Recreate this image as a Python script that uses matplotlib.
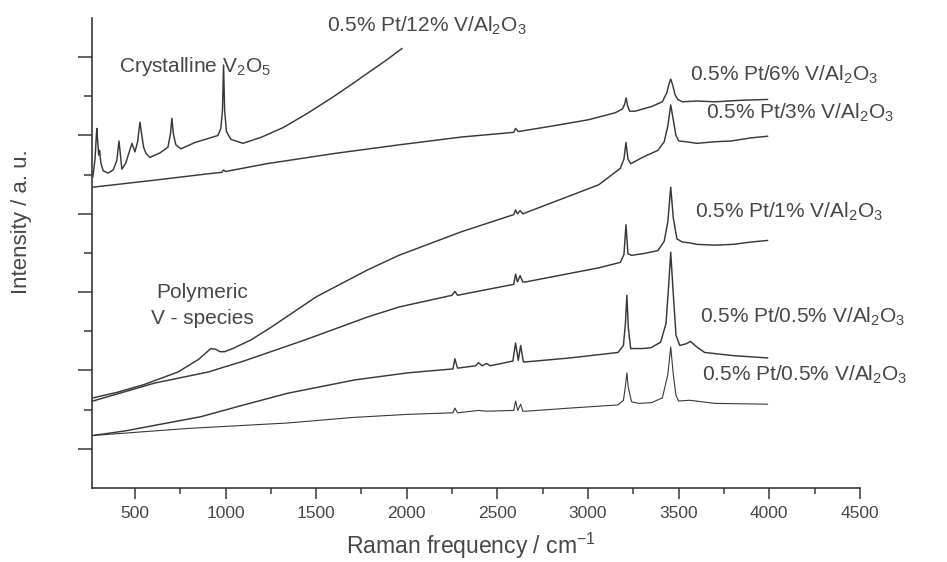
import matplotlib
matplotlib.use("Agg")
import matplotlib.pyplot as plt
from matplotlib.ticker import MultipleLocator

plt.rcParams["font.family"] = ["Liberation Sans", "DejaVu Sans"]
plt.rcParams["mathtext.fontset"] = "custom"
plt.rcParams["mathtext.rm"] = "Liberation Sans"
plt.rcParams["mathtext.it"] = "Liberation Sans:italic"

# spectra (Raman shift / cm-1, intensity in arbitrary units)
wn_12v = [268, 280, 286, 290, 294, 300, 305, 312, 325, 351, 380, 400, 407, 412, 418,
          428, 450, 470, 484, 500, 515, 523, 528, 535, 548, 561, 583, 640, 682, 696,
          704, 712, 726, 754, 831, 958, 974, 983, 989, 995, 1005, 1030, 1096, 1200,
          1317, 1450, 1592, 1700, 1780, 1880, 1973]
int_12v = [3.97, 4.20, 4.45, 4.59, 4.45, 4.25, 4.31, 4.15, 4.05, 4.02, 4.06, 4.18, 4.32, 4.43, 4.30,
           4.07, 4.15, 4.30, 4.40, 4.29, 4.42, 4.58, 4.67, 4.55, 4.35, 4.27, 4.22, 4.28, 4.35, 4.52,
           4.72, 4.52, 4.38, 4.33, 4.41, 4.50, 4.59, 4.82, 5.40, 4.82, 4.55, 4.45, 4.40, 4.48,
           4.60, 4.78, 4.99, 5.16, 5.29, 5.45, 5.61]

wn_6v = [268, 610, 900, 980, 989, 1000, 1228, 1600, 1956, 2128, 2300, 2590, 2600, 2615,
         2800, 3000, 3150, 3190, 3202, 3210, 3218, 3230, 3260, 3350, 3410, 3435, 3448,
         3456, 3466, 3480, 3495, 3520, 3600, 3700, 3850, 3990]
int_6v = [3.84, 3.93, 4.01, 4.03, 4.06, 4.04, 4.14, 4.27, 4.38, 4.43, 4.48, 4.54, 4.59, 4.55,
          4.62, 4.70, 4.79, 4.84, 4.90, 4.98, 4.88, 4.81, 4.81, 4.87, 4.93, 5.05, 5.17,
          5.22, 5.15, 5.02, 4.96, 4.93, 4.94, 4.93, 4.95, 4.96]

wn_3v = [268, 400, 550, 737, 850, 919, 945, 970, 995, 1040, 1140, 1250, 1500, 1780, 1956,
         2300, 2590, 2600, 2610, 2625, 2640, 3058, 3178, 3198, 3209, 3220, 3235, 3300,
         3385, 3420, 3440, 3456, 3470, 3485, 3500, 3540, 3600, 3700, 3790, 3900, 3990]
int_3v = [1.15, 1.22, 1.32, 1.48, 1.64, 1.78, 1.77, 1.74, 1.74, 1.78, 1.89, 2.05, 2.44, 2.78, 2.97,
          3.27, 3.49, 3.55, 3.50, 3.54, 3.50, 3.87, 4.08, 4.20, 4.41, 4.20, 4.14, 4.22,
          4.31, 4.42, 4.62, 4.89, 4.70, 4.50, 4.43, 4.42, 4.40, 4.42, 4.43, 4.47, 4.49]

wn_1v = [268, 610, 903, 1100, 1438, 1780, 1956, 2250, 2265, 2280, 2590, 2600, 2610,
         2625, 2640, 2655, 3058, 3178, 3198, 3209, 3220, 3240, 3300, 3385, 3420, 3440,
         3456, 3470, 3490, 3520, 3560, 3600, 3700, 3800, 3900, 3990]
int_1v = [1.11, 1.34, 1.48, 1.62, 1.89, 2.18, 2.31, 2.46, 2.51, 2.46, 2.60, 2.73, 2.63,
          2.71, 2.63, 2.63, 2.81, 2.88, 2.98, 3.36, 2.99, 2.97, 2.99, 3.03, 3.15, 3.40,
          3.84, 3.45, 3.18, 3.14, 3.13, 3.11, 3.10, 3.11, 3.14, 3.16]

wn_05v_a = [268, 450, 610, 864, 1100, 1344, 1714, 2006, 2255, 2265, 2280, 2380, 2396, 2415,
            2440, 2460, 2585, 2600, 2615, 2628, 2643, 2658, 2900, 3165, 3195, 3206, 3214,
            3222, 3235, 3300, 3346, 3400, 3430, 3445, 3456, 3468, 3485, 3506, 3540, 3565,
            3600, 3643, 3800, 3990]
int_05v_a = [0.67, 0.73, 0.80, 0.91, 1.06, 1.21, 1.38, 1.47, 1.52, 1.65, 1.53, 1.56, 1.60, 1.56,
             1.59, 1.56, 1.62, 1.85, 1.63, 1.82, 1.61, 1.61, 1.66, 1.73, 1.82, 2.10, 2.46,
             2.05, 1.78, 1.78, 1.79, 1.86, 2.10, 2.60, 3.01, 2.55, 1.95, 1.82, 1.84, 1.87,
             1.80, 1.73, 1.69, 1.66]

wn_05v_b = [268, 792, 1344, 1700, 2006, 2255, 2265, 2280, 2396, 2440, 2590, 2600, 2612,
            2628, 2640, 2655, 2900, 3165, 3195, 3206, 3214, 3222, 3240, 3280, 3350, 3410,
            3440, 3456, 3470, 3485, 3500, 3560, 3700, 3990]
int_05v_b = [0.67, 0.76, 0.83, 0.90, 0.94, 0.96, 1.02, 0.96, 0.99, 0.98, 0.99, 1.11, 0.99,
             1.07, 0.98, 0.98, 1.02, 1.06, 1.12, 1.30, 1.47, 1.28, 1.10, 1.08, 1.09, 1.15,
             1.45, 1.80, 1.45, 1.18, 1.11, 1.12, 1.08, 1.07]

spectra = [
    (wn_12v, int_12v, 1.05),
    (wn_6v, int_6v, 1.05),
    (wn_3v, int_3v, 1.05),
    (wn_1v, int_1v, 1.05),
    (wn_05v_a, int_05v_a, 1.05),
    (wn_05v_b, int_05v_b, 0.8),
]

# sample labels: text, x, y
sample_labels = [
    (r"0.5% Pt/12% V/Al$_2$O$_3$", 1560, 5.90),
    (r"0.5% Pt/6% V/Al$_2$O$_3$", 3560, 5.27),
    (r"0.5% Pt/3% V/Al$_2$O$_3$", 3650, 4.79),
    (r"0.5% Pt/1% V/Al$_2$O$_3$", 3590, 3.53),
    (r"0.5% Pt/0.5% V/Al$_2$O$_3$", 3620, 2.19),
    (r"0.5% Pt/0.5% V/Al$_2$O$_3$", 3630, 1.45),
]

ink = "#383838"
txt = "#474747"
fig = plt.figure(figsize=(9.47, 5.62), dpi=100)
ax = fig.add_axes([0.0971, 0.1317, 0.811, 0.8363])

for wn, inten, lw in spectra:
    ax.plot(wn, inten, color=ink, lw=lw)

for text, x, y in sample_labels:
    ax.text(x, y, text, fontsize=15, color=txt, ha="left", va="center")

ax.text(410, 5.38, r"Crystalline V$_2$O$_5$", fontsize=15, color=txt,
        ha="left", va="center")
ax.text(870, 2.33, "Polymeric\nV - species", fontsize=15, color=txt,
        ha="center", va="center", linespacing=1.45)

ax.set_xlim(263, 4500)
ax.set_ylim(0, 6)
ax.xaxis.set_major_locator(MultipleLocator(500))
ax.xaxis.set_minor_locator(MultipleLocator(250))
ax.set_yticks([0.5, 1.5, 2.5, 3.5, 4.5, 5.5])
ax.set_yticks([1, 2, 3, 4, 5], minor=True)
ax.tick_params(axis="y", which="both", labelleft=False, direction="out",
               color=ink, width=1.1)
ax.tick_params(axis="y", which="major", length=10)
ax.tick_params(axis="y", which="minor", length=6)
ax.tick_params(axis="x", which="major", length=8, width=1.1, color=ink,
               labelsize=12.5, labelcolor=txt, pad=5)
ax.tick_params(axis="x", which="minor", length=4, width=1.1, color=ink)

for side in ("top", "right"):
    ax.spines[side].set_visible(False)
for side in ("left", "bottom"):
    ax.spines[side].set_color(ink)
    ax.spines[side].set_linewidth(1.2)

fig.text(0.497, 1 - 554 / 562, "Raman frequency / cm$^{-1}$", fontsize=16.5,
         color=txt, ha="center", va="baseline")
fig.text(0.023, 0.605, "Intensity / a. u.", rotation=90, fontsize=16,
         color=txt, ha="center", va="center")

fig.savefig("out.png", dpi=100, facecolor="white")
